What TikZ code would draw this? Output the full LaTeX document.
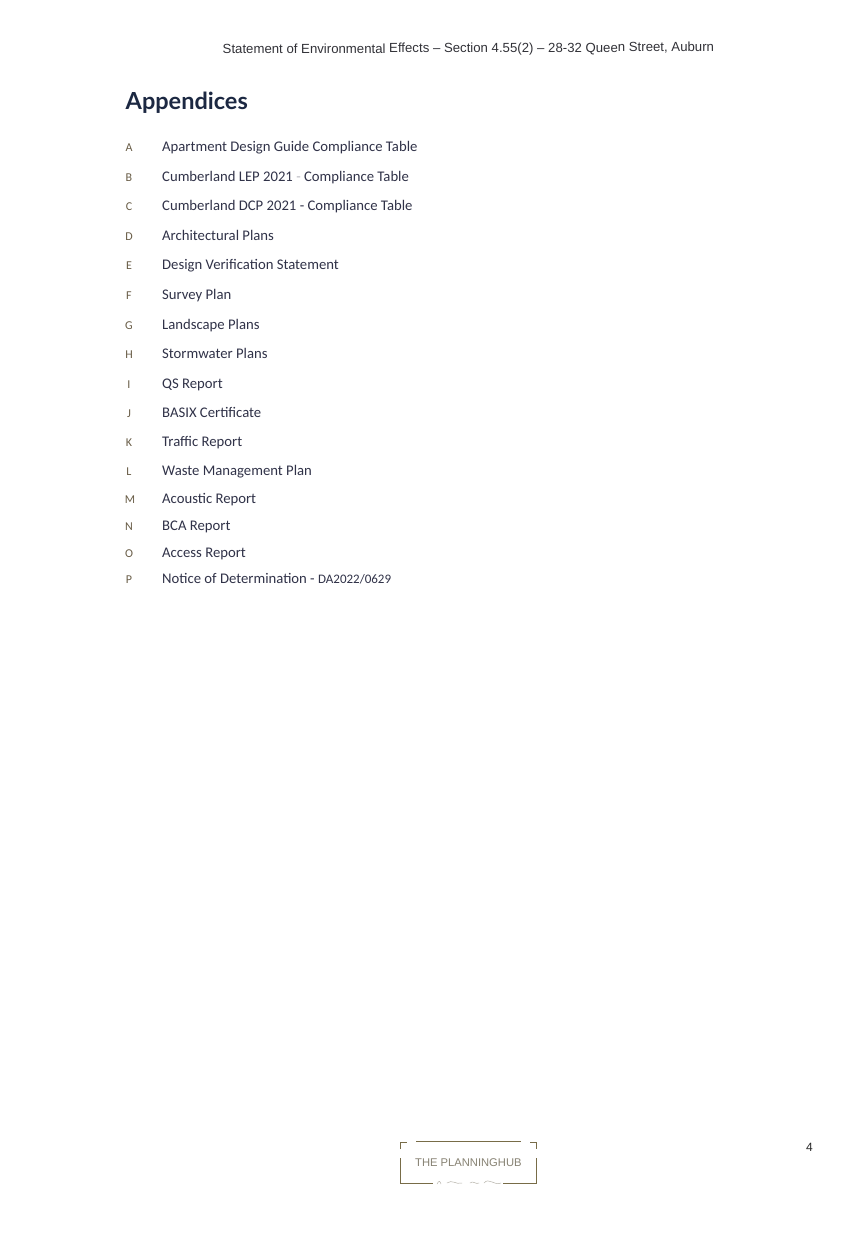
\documentclass[tikz,border=0pt]{standalone}
\usepackage{fontspec}
\setmainfont{Carlito}
\newfontfamily\headfont{Liberation Sans}
\newfontfamily\titlefont{Lato}
\definecolor{inkbody}{RGB}{48,50,72}
\definecolor{inktitle}{RGB}{28,40,66}
\definecolor{inkletter}{RGB}{104,92,70}
\definecolor{inkhead}{RGB}{50,50,56}
\definecolor{logoline}{RGB}{120,108,72}
\definecolor{logotext}{RGB}{135,130,115}
\tikzset{x=1pt,y=-1pt,
  entry/.style={anchor=base west,inner sep=0pt,text=inkbody,font=\fontsize{14.7}{16}\selectfont},
  letter/.style={anchor=base,inner sep=0pt,text=inkletter,font=\fontsize{12}{14}\selectfont},
  logorule/.style={draw=logoline,line width=0.9pt}}
\begin{document}
\begin{tikzpicture}
\useasboundingbox[fill=white] (0,0) rectangle (854,1237);
\node[anchor=base west,inner sep=0pt,text=inkhead,rotate=0.25,font=\headfont\fontsize{13.2}{15}\selectfont] (header) at (222.5,53.7) {Statement of Environmental Effects – Section 4.55(2) – 28-32 Queen Street, Auburn};
\node[anchor=base west,inner sep=0pt,text=inktitle,font=\titlefont\bfseries\fontsize{23.5}{27}\selectfont] (title) at (125.5,109) {Appendices};
\foreach \nm/\ltr/\lx/\ey/\txt in {
 a/A/129/151/{Apartment Design Guide Compliance Table},
 b/B/129/181/{Cumberland LEP 2021 {\color{inkbody!35}-} Compliance Table},
 c/C/129/210/{Cumberland DCP 2021 - Compliance Table},
 d/D/129/240/{Architectural Plans},
 e/E/129/269/{Design Verification Statement},
 f/F/129/299/{Survey Plan},
 g/G/129/329/{Landscape Plans},
 h/H/129/358/{Stormwater Plans},
 i/I/129/388/{QS Report},
 j/J/129/417/{BASIX Certificate},
 k/K/129/446/{Traffic Report},
 l/L/129/475/{Waste Management Plan},
 m/M/130/503/{Acoustic Report},
 n/N/129/530/{BCA Report},
 o/O/129/557/{Access Report},
 p/P/129/583/{Notice of Determination - {\fontsize{13}{14}\selectfont DA2022/0629}}}
{
  \node[letter] (let\nm) at (\lx,\ey+0.3) {\ltr};
  \node[entry] (ent\nm) at (162,\ey) {\txt};
}
% logo
\node[anchor=base west,inner sep=0pt,text=logotext,font=\headfont\fontsize{11.2}{13}\selectfont] (logoname) at (415,1166) {THE PLANNINGHUB};
\draw[logorule,line width=0.7pt] (400,1149) -- (400,1142) -- (407,1142);
\draw[logorule] (416,1141.7) -- (521,1141.7);
\draw[logorule,line width=0.7pt] (530,1142) -- (536,1142) -- (536,1149);
\draw[logorule] (400,1158) -- (400,1183) -- (433,1183);
\draw[logorule] (503,1183) -- (536,1183) -- (536,1158);
\draw[logotext!60,line width=0.5pt] (437,1184) .. controls (439,1180) and (440,1181) .. (441,1184)
  (447,1183) .. controls (452,1179) and (456,1185) .. (462,1183)
  (470,1183) .. controls (473,1180) and (476,1185) .. (479,1183)
  (484,1183) .. controls (489,1177) and (494,1186) .. (501,1183);
\node[anchor=base,inner sep=0pt,text=black!85,font=\headfont\fontsize{12}{13}\selectfont] (pagenum) at (809.5,1151.5) {4};
\end{tikzpicture}
\end{document}
